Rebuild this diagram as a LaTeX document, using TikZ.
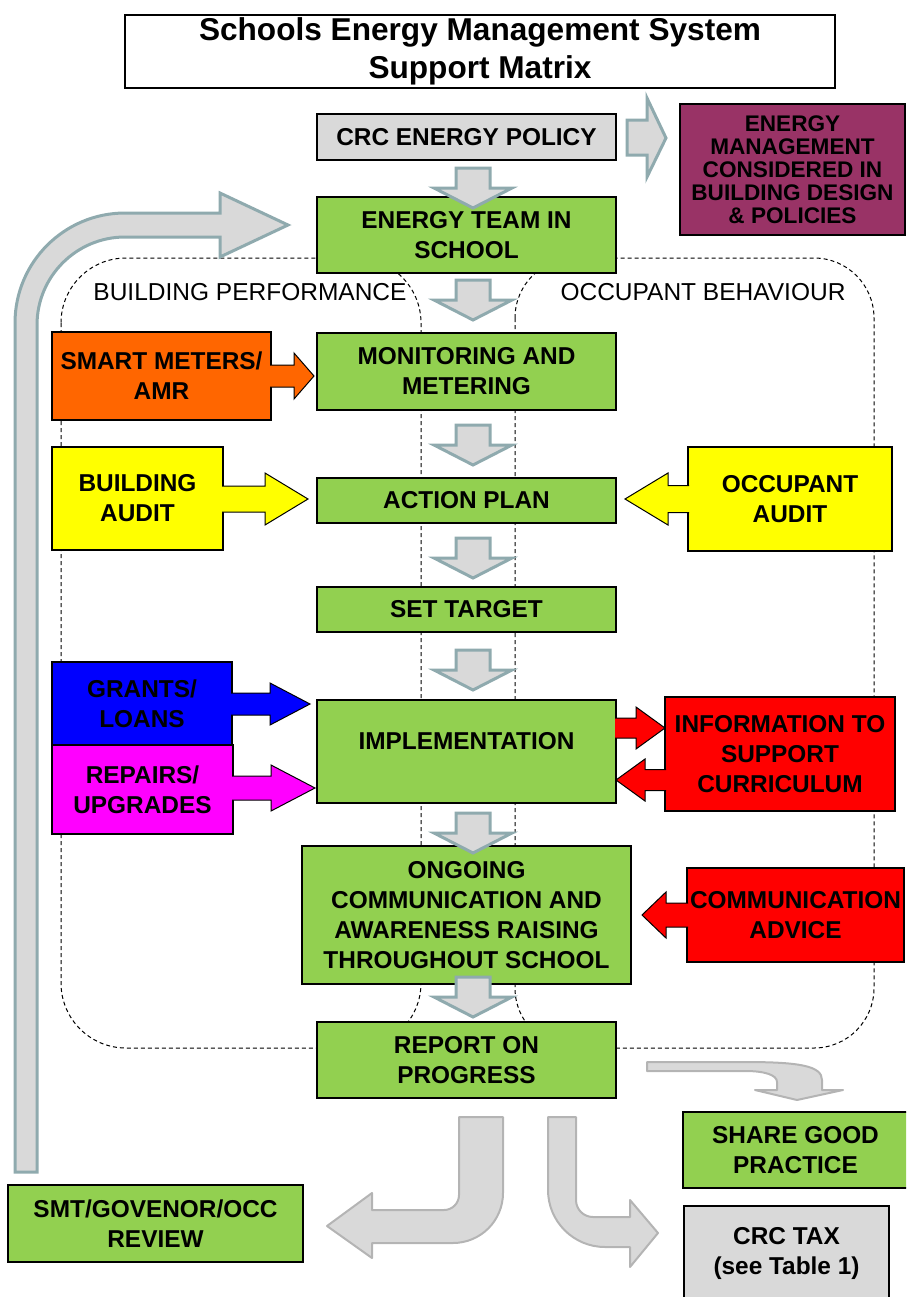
\documentclass[tikz,border=0pt]{standalone}
\usepackage{fontspec}
\setmainfont{Liberation Sans}
\usepackage{tikz}

\definecolor{boxgreen}{HTML}{92D050}
\definecolor{boxgray}{HTML}{D9D9D9}
\definecolor{boxpurple}{HTML}{993366}
\definecolor{boxorange}{HTML}{FF6600}
\definecolor{boxyellow}{RGB}{255,255,0}
\definecolor{boxblue}{RGB}{0,0,255}
\definecolor{boxmagenta}{RGB}{255,0,255}
\definecolor{boxred}{RGB}{255,0,0}
\definecolor{arrteal}{HTML}{8FAAAE}
\definecolor{arrline}{HTML}{B4B4B4}

\newcommand{\lbl}{\bfseries\fontsize{12.2}{15}\selectfont}
\newcommand{\smlbl}{\bfseries\fontsize{11.3}{11.5}\selectfont}
\newcommand{\ttl}{\bfseries\fontsize{15.8}{19}\selectfont}
\newcommand{\reglbl}{\fontsize{12.25}{15}\selectfont}

\newcommand{\sidearrow}[7]{
  \path[#1] (#2,#5-#6) -- (#3,#5-#6) -- (#3,#5-#7) -- (#4,#5)
     -- (#3,#5+#7) -- (#3,#5+#6) -- (#2,#5+#6);
}
\newcommand{\dnarrow}[1]{
  \draw[dnar] (456,#1) -- (490,#1) -- (490,#1+20) -- (512,#1+20) -- (473,#1+40)
     -- (434,#1+20) -- (456,#1+20) -- cycle;
}

\begin{document}
\begin{tikzpicture}[x=0.5pt,y=-0.5pt,box/.style n args={3}{draw=black,line width=0.75pt,fill=#1,minimum width=#2*0.5pt,minimum height=#3*0.5pt,inner sep=0pt,align=center,font=\lbl},region/.style={draw=black,line width=0.5pt,dash pattern=on 2pt off 1.5pt},dnar/.style={fill=boxgray,draw=arrteal,line width=1.5pt},bigar/.style={fill=boxgray,draw=arrline,line width=1pt,line join=round},colar/.style={fill=#1,draw=black,line width=0.5pt}]
\useasboundingbox (0,0) rectangle (906,1297);
\clip (0,0) rectangle (906,1297);

\draw[region,rounded corners=32.5pt] (61,258) rectangle (421,1048);
\draw[region,rounded corners=30pt] (515,258) rectangle (874,1048);
\node[font=\reglbl] (bplabel) at (250,292) {BUILDING PERFORMANCE};
\node[font=\reglbl] (oblabel) at (703,292) {OCCUPANT BEHAVIOUR};

\draw[dnar] (15,1172) -- (15,323) arc[start angle=180,end angle=270,radius=110]
   -- (220,213) -- (220,193) -- (288,225) -- (220,257) -- (220,237) -- (125,237)
   arc[start angle=270,end angle=180,radius=88] -- (37,1172) -- cycle;

\node[box={white}{710}{73},font=\ttl] (title) at (480,51.5) {Schools Energy Management System\\Support Matrix};
\node[box={boxgray}{299}{46}] (crc) at (466.5,137) {CRC ENERGY POLICY};
\node[box={boxpurple}{225}{131},font=\smlbl] (design) at (792.5,169.5) {ENERGY\\MANAGEMENT\\CONSIDERED IN\\BUILDING DESIGN\\\& POLICIES};
\node[box={boxgreen}{299}{76}] (team) at (466.5,235) {ENERGY TEAM IN\\SCHOOL};
\node[box={boxgreen}{299}{77}] (monit) at (466.5,371.5) {MONITORING AND\\METERING};
\node[box={boxorange}{219}{88}] (smart) at (161.5,376) {SMART METERS/\\AMR};
\node[box={boxgreen}{299}{45}] (action) at (466.5,500.5) {ACTION PLAN};
\node[box={boxyellow}{171}{103}] (baudit) at (137.5,498.5) {BUILDING\\AUDIT};
\node[box={boxyellow}{204}{104}] (oaudit) at (790,499) {OCCUPANT\\AUDIT};
\node[box={boxgreen}{299}{45}] (target) at (466.5,609.5) {SET TARGET};
\node[box={boxgreen}{299}{103}] (impl) at (466.5,751.5) {\raisebox{10.5pt}{IMPLEMENTATION}};
\node[box={boxblue}{180}{83}] (grants) at (142,703.5) {GRANTS/\\LOANS};
\node[box={boxmagenta}{181}{89}] (repairs) at (142.5,789.5) {REPAIRS/\\UPGRADES};
\node[box={boxred}{230}{114}] (info) at (780,754) {INFORMATION TO\\SUPPORT\\CURRICULUM};
\node[box={boxgreen}{329}{138}] (ongoing) at (466.5,915) {ONGOING\\COMMUNICATION AND\\AWARENESS RAISING\\THROUGHOUT SCHOOL};
\node[box={boxred}{217}{94}] (comm) at (795.5,915) {COMMUNICATION\\ADVICE};
\node[box={boxgreen}{299}{76}] (report) at (466.5,1060) {REPORT ON\\PROGRESS};
\node[box={boxgreen}{225}{76}] (share) at (795.5,1150) {SHARE GOOD\\PRACTICE};
\node[box={boxgray}{205}{94}] (tax) at (786.5,1253) {CRC TAX\\(see Table 1)};
\node[box={boxgreen}{295}{77}] (smt) at (155.5,1223.5) {SMT/GOVENOR/OCC\\REVIEW};

\draw[dnar] (627,120) -- (647,120) -- (647,98) -- (666,138) -- (647,177) -- (647,155) -- (627,155) -- cycle;
\dnarrow{168}
\dnarrow{280}
\dnarrow{425}
\dnarrow{538}
\dnarrow{650}
\dnarrow{813}
\dnarrow{977}

\sidearrow{colar=boxorange}{270}{294}{314}{376}{11}{23}
\sidearrow{colar=boxyellow}{222}{265}{308}{499}{13}{26}
\sidearrow{colar=boxyellow}{689}{668}{625}{499}{13.5}{26}
\sidearrow{colar=boxblue}{231}{270}{310}{704}{11}{21}
\sidearrow{colar=boxmagenta}{232}{271}{315}{788}{12}{23}
\sidearrow{colar=boxred}{615}{636}{665}{728}{10}{21}
\sidearrow{colar=boxred}{666}{645}{616}{780}{10.5}{21}
\sidearrow{colar=boxred}{688}{666}{642}{915}{12}{23}

\draw[bigar] (647,1062) -- (745,1062) .. controls (800,1062) and (822,1066) .. (822,1080)
   -- (822,1090) -- (843,1090) -- (797,1100) -- (755,1090) -- (777,1090) -- (777,1082)
   .. controls (777,1075) and (765,1071) .. (745,1071) -- (647,1071) -- cycle;
\draw[bigar] (459,1117) -- (503,1117) -- (503,1193) arc[start angle=0,end angle=90,radius=50]
   -- (372,1243) -- (372,1258) -- (327,1226) -- (372,1193) -- (372,1210) -- (444,1210)
   arc[start angle=90,end angle=0,radius=15] -- cycle;
\draw[bigar] (548,1117) -- (576,1117) -- (576,1200) arc[start angle=180,end angle=90,radius=17]
   -- (630,1217) -- (630,1200) -- (658,1233) -- (630,1267) -- (630,1247) -- (605,1247)
   arc[start angle=90,end angle=180,radius=57] -- cycle;
\end{tikzpicture}
\end{document}
